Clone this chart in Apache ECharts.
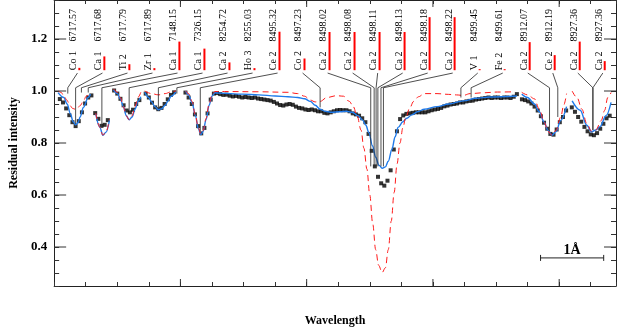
<!DOCTYPE html>
<html>
<head>
<meta charset="utf-8">
<script src="https://cdn.jsdelivr.net/npm/echarts@6/dist/echarts.min.js"></script>
<style>
html,body{margin:0;padding:0;background:#fff;}
#chart{width:618px;height:332px;}
</style>
</head>
<body>
<div id="chart"></div>
<script>
var serif = '"Liberation Serif", "Times New Roman", serif';

// observed spectrum (black squares), sampled every 0.05 A along the stitched axis
var obsStep = 0.05;
var obsStart = [0.09, 0.65, 0.95, 1.45, 2.08, 7.41, 8.2];
var obsSeg1 = [0.969,0.956,0.933,0.907,0.880,0.865,0.884,0.918,0.952,0.975,0.983];
var obsSeg2 = [0.915,0.893,0.866,0.870,0.888];
var obsSeg3 = [1.002,0.990,0.970,0.945,0.925,0.918,0.928,0.950,0.965];
var obsSeg4 = [0.990,0.975,0.955,0.937,0.930,0.935,0.950,0.968,0.985,0.995];
var obsSeg5 = [0.994,0.975,0.950,0.910,0.865,0.837,0.858,0.914,0.967,0.990,
  0.992,0.988,0.985,0.986,0.982,0.979,0.981,0.978,0.975,0.977,
  0.975,0.973,0.975,0.971,0.969,0.967,0.965,0.963,0.958,0.952,
  0.946,0.944,0.948,0.950,0.947,0.940,0.935,0.933,0.929,0.927,
  0.929,0.926,0.922,0.922,0.916,0.914,0.918,0.922,0.926,0.927,
  0.926,0.926,0.922,0.914,0.910,0.905,0.895,0.880,0.835,0.770,
  0.710,0.670,0.645,0.636,0.655,0.695,0.775,0.845,0.892,0.906,
  0.912,0.914,0.916,0.918,0.918,0.918,0.918,0.922,0.926,0.929,
  0.931,0.935,0.941,0.944,0.948,0.950,0.952,0.956,0.956,0.960,
  0.962,0.963,0.967,0.969,0.971,0.973,0.975,0.973,0.975,0.975,
  0.973,0.975,0.975,0.973,0.978,0.988];
var obsSeg6 = [0.968,0.965,0.960,0.952,0.940,0.925,0.903,0.878,0.855,0.835,0.832,0.852,0.880,0.900,0.925];
var obsSeg7 = [0.937,0.920,0.900,0.882,0.862,0.845,0.833,0.830,0.838,0.855,0.874,0.895,0.905];

// fitted synthetic spectrum (blue)
var blueSeg1 = [[0.062,0.994],[0.154,0.975],[0.205,0.95],[0.258,0.912],[0.301,0.882],[0.340,0.87],[0.378,0.878],[0.412,0.9],[0.463,0.937],[0.540,0.975],[0.576,0.988]];
var blueSeg2 = [[0.659,0.912],[0.721,0.862],[0.772,0.83],[0.823,0.842],[0.875,0.887]];
var blueSeg3 = [[0.941,1.004],[1.003,0.99],[1.049,0.97],[1.096,0.94],[1.142,0.905],[1.188,0.889],[1.235,0.9],[1.281,0.93],[1.327,0.96],[1.373,0.978]];
var blueSeg4 = [[1.435,0.995],[1.497,0.975],[1.543,0.958],[1.597,0.94],[1.651,0.928],[1.705,0.932],[1.759,0.945],[1.806,0.962],[1.852,0.98],[1.929,0.998]];
var blueSeg5 = [[2.083,1.0],[2.130,0.985],[2.184,0.955],[2.238,0.905],[2.284,0.855],[2.323,0.832],[2.361,0.845],[2.407,0.89],[2.454,0.945],[2.5,0.98],[2.546,0.993],[2.623,0.992],[2.978,0.988],[3.241,0.985],[3.503,0.981],[3.704,0.978],[3.858,0.975],[3.966,0.97],[4.059,0.96],[4.136,0.945],[4.213,0.93],[4.290,0.922],[4.398,0.918],[4.522,0.92],[4.630,0.922],[4.722,0.918],[4.815,0.905],[4.887,0.888],[4.938,0.868],[4.985,0.84],[5.042,0.79],[5.093,0.745],[5.144,0.715],[5.196,0.703],[5.247,0.708],[5.293,0.73],[5.350,0.775],[5.401,0.824],[5.448,0.86],[5.525,0.882],[5.586,0.895],[5.664,0.908],[5.756,0.92],[5.864,0.93],[6.065,0.94],[6.250,0.95],[6.481,0.962],[6.682,0.972],[6.898,0.977],[7.330,0.981]];
var blueSeg6 = [[7.407,0.988],[7.500,0.975],[7.608,0.95],[7.685,0.92],[7.762,0.88],[7.824,0.848],[7.886,0.83],[7.948,0.843],[8.025,0.887],[8.117,0.94]];
var blueSeg7 = [[8.205,0.962],[8.333,0.926],[8.437,0.868],[8.514,0.843],[8.580,0.85],[8.642,0.862],[8.745,0.906],[8.822,0.956]];

// second model (red dashed)
var redSeg1 = [[0.062,1.0],[0.108,0.995],[0.154,0.982],[0.201,0.965],[0.247,0.945],[0.293,0.933],[0.332,0.93],[0.370,0.935],[0.417,0.945],[0.463,0.962],[0.509,0.98],[0.571,0.997]];
var redSeg2 = [[0.659,0.915],[0.721,0.862],[0.772,0.83],[0.823,0.845],[0.875,0.89]];
var redSeg3 = [[0.941,1.008],[1.003,0.995],[1.049,0.975],[1.096,0.94],[1.142,0.905],[1.188,0.889],[1.235,0.905],[1.281,0.94],[1.327,0.975],[1.373,0.995]];
var redSeg4 = [[1.435,1.0],[1.543,0.99],[1.651,0.985],[1.759,0.99],[1.852,0.997],[1.929,1.0]];
var redSeg5 = [[2.083,1.0],[2.130,0.99],[2.184,0.96],[2.238,0.905],[2.284,0.858],[2.323,0.835],[2.361,0.848],[2.407,0.895],[2.454,0.95],[2.5,0.985],[2.546,0.998],[2.701,0.998],[3.241,0.997],[3.704,0.995],[3.858,0.99],[3.966,0.98],[4.059,0.965],[4.136,0.958],[4.213,0.96],[4.321,0.975],[4.475,0.982],[4.583,0.98],[4.676,0.96],[4.738,0.94],[4.799,0.905],[4.861,0.85],[4.907,0.78],[4.954,0.70],[5.0,0.60],[5.046,0.49],[5.093,0.39],[5.139,0.33],[5.196,0.302],[5.247,0.32],[5.293,0.39],[5.340,0.50],[5.386,0.61],[5.432,0.72],[5.478,0.80],[5.525,0.86],[5.571,0.90],[5.633,0.935],[5.694,0.96],[5.772,0.978],[5.864,0.99],[6.065,0.99],[6.250,0.987],[6.373,0.985],[6.481,0.983],[6.590,0.99],[6.790,0.993],[7.022,0.996],[7.299,0.997]];
var redSeg6 = [[7.407,0.995],[7.500,0.985],[7.608,0.97],[7.685,0.93],[7.762,0.88],[7.824,0.845],[7.886,0.83],[7.948,0.848],[8.025,0.9],[8.071,0.945],[8.117,0.99]];
var redSeg7 = [[8.205,1.0],[8.282,0.975],[8.360,0.93],[8.437,0.875],[8.514,0.845],[8.580,0.85],[8.668,0.887],[8.719,0.925],[8.770,0.975],[8.822,0.994]];

// line identifications
var lineNames = ['Co 1','Ca 1','Ti 2','Zr 1','Ca 1','Ca 1','Ca 2','Ho 3','Ce 2','Co 2','Ca 2','Ca 2','Ca 2','Ca 2','Ca 2','Ca 2','V 1','Fe 2','Ca 2','Ce 2','Ca 2','Ca 2'];
var lineWaves = ['6717.57','6717.68','6717.79','6717.89','7148.15','7326.15','8254.72','8255.03','8495.32','8497.23','8498.02','8498.08','8498.11','8498.13','8498.18','8498.22','8499.45','8499.61','8912.07','8912.19','8927.36','8927.36'];
var linePos = [0.216,0.340,0.432,0.540,0.756,1.188,1.651,1.944,2.315,4.213,5.015,5.069,5.100,5.128,5.177,5.216,6.443,6.605,7.847,7.978,8.534,8.534];
var lineBottom = [0.99,0.873,0.994,0.994,0.873,0.926,0.937,0.99,0.845,0.937,0.71,0.71,0.71,0.71,0.71,0.71,0.975,0.975,0.845,0.9,0.85,0.85];
var lineStrength = [0.009,0.053,0.023,0.008,0.11,0.083,0.03,0.008,0.148,0.045,0.147,0.147,0.147,0.147,0.204,0.204,0.004,0.004,0.108,0.058,0.11,0.035];

var yMajorTicks = [0.4, 0.6, 0.8, 1.0, 1.2];
var xMajorTicks = [2, 4, 6, 8];

var xMin = 0, xMax = 8.9, yMin = 0.25, yMax = 1.35;
var labelStart = 0.309, labelStep = 0.3963;   // label columns
var barBase = 1.08, waveBase = 1.19, leaderTop = 1.069, leaderBend = 1.0125;
var scaleBar = [7.705, 0.358];  // 1 A scale bar

function joinSegs(segs) {
  var out = [];
  segs.forEach(function (s, i) {
    if (i) out.push([(segs[i - 1][segs[i - 1].length - 1][0] + s[0][0]) / 2, null]);
    s.forEach(function (p) { out.push(p); });
  });
  return out;
}

var obsData = [];
[obsSeg1, obsSeg2, obsSeg3, obsSeg4, obsSeg5, obsSeg6, obsSeg7].forEach(function (seg, s) {
  seg.forEach(function (v, i) { obsData.push([+(obsStart[s] + i * obsStep).toFixed(3), v]); });
});

var lineData = linePos.map(function (p, i) { return [p, lineBottom[i], lineStrength[i], i]; });
var tickData = yMajorTicks.map(function (v) { return [xMin, v, 0]; })
  .concat(xMajorTicks.map(function (v) { return [v, yMin, 1]; }));

var chart = echarts.init(document.getElementById('chart'));

var axisCommon = {
  type: 'value',
  axisLine: { show: true, onZero: false, lineStyle: { color: '#222', width: 1 } },
  splitLine: { show: false }
};

var option = {
  animation: false,
  grid: { left: 40, right: 2, top: 0, bottom: 40, containLabel: false },
  xAxis: [
    Object.assign({}, axisCommon, {
      min: xMin, max: xMax, interval: 0.5, position: 'bottom',
      axisTick: { inside: true, length: 4, lineStyle: { color: '#333' } },
      axisLabel: { show: false },
      name: 'Wavelength', nameLocation: 'middle', nameGap: 29,
      nameTextStyle: { fontFamily: serif, fontSize: 12, fontWeight: 'bold', color: '#000' }
    }),
    Object.assign({}, axisCommon, {
      min: xMin, max: xMax, interval: 0.5, position: 'top',
      axisTick: { inside: true, length: 4, lineStyle: { color: '#333' } },
      axisLabel: { show: false }
    })
  ],
  yAxis: [
    Object.assign({}, axisCommon, {
      min: yMin, max: yMax, interval: 0.05, position: 'left',
      axisTick: { inside: true, length: 5, lineStyle: { color: '#333' } },
      axisLabel: {
        margin: 7, fontFamily: serif, fontSize: 13, fontWeight: 'bold', color: '#000',
        formatter: function (v) {
          return (Math.abs(v * 5 - Math.round(v * 5)) < 1e-6 && v > 0.3) ? v.toFixed(1) : '';
        }
      },
      name: 'Residual intensity', nameLocation: 'middle', nameGap: 33,
      nameTextStyle: { fontFamily: serif, fontSize: 12, fontWeight: 'bold', color: '#000' }
    }),
    Object.assign({}, axisCommon, {
      min: yMin, max: yMax, interval: 0.05, position: 'right',
      axisTick: { inside: true, length: 5, lineStyle: { color: '#333' } },
      axisLabel: { show: false }
    })
  ],
  series: [
    {
      type: 'scatter', data: obsData, symbol: 'rect', symbolSize: 4,
      itemStyle: { color: '#000' }, silent: true, z: 2
    },
    {
      type: 'line', data: joinSegs([blueSeg1, blueSeg2, blueSeg3, blueSeg4, blueSeg5, blueSeg6, blueSeg7]),
      showSymbol: false, smooth: 0.35, smoothMonotone: 'x', connectNulls: false,
      lineStyle: { color: '#1f7aea', width: 1.4 }, silent: true, z: 3
    },
    {
      type: 'line', data: joinSegs([redSeg1, redSeg2, redSeg3, redSeg4, redSeg5, redSeg6, redSeg7]),
      showSymbol: false, smooth: 0.35, smoothMonotone: 'x', connectNulls: false,
      lineStyle: { color: '#ff1a1a', width: 1, type: [6, 4] }, silent: true, z: 4
    },
    {
      // line identification labels, strength bars and leader lines
      type: 'custom', data: lineData, clip: false, silent: true, z: 5,
      renderItem: function (params, api) {
        var i = api.value(3);
        var lx = labelStart + i * labelStep;
        var p0 = api.coord([lx + 0.06, leaderTop]);
        var p1 = api.coord([api.value(0), leaderBend]);
        var p2 = api.coord([api.value(0), api.value(1)]);
        var b0 = api.coord([lx + 0.09, barBase]);
        var b1 = api.coord([lx + 0.09, barBase + api.value(2)]);
        var np = api.coord([lx, barBase]);
        var wp = api.coord([lx, waveBase]);
        var font = '10px ' + serif;
        return {
          type: 'group',
          children: [
            { type: 'polyline', shape: { points: [p0, p1, p2] }, style: { stroke: '#222', lineWidth: 0.8, fill: 'none' } },
            { type: 'rect', shape: { x: b0[0] - 1, y: b1[1], width: 2, height: b0[1] - b1[1] }, style: { fill: '#ff0000' } },
            { type: 'text', x: np[0], y: np[1], rotation: Math.PI / 2,
              style: { text: lineNames[i], font: font, fill: '#000', align: 'left', verticalAlign: 'middle' } },
            { type: 'text', x: wp[0], y: wp[1], rotation: Math.PI / 2,
              style: { text: lineWaves[i], font: font, fill: '#000', align: 'left', verticalAlign: 'middle' } }
          ]
        };
      }
    },
    {
      // long ticks at the major values, on all four sides
      type: 'custom', data: tickData, clip: false, silent: true, z: 6,
      renderItem: function (params, api) {
        var v0 = api.value(0), v1 = api.value(1);
        var a, b, style = { stroke: '#333', lineWidth: 1 };
        if (api.value(2) === 0) {
          a = api.coord([xMin, v1]); b = api.coord([xMax, v1]);
          return { type: 'group', children: [
            { type: 'line', shape: { x1: a[0], y1: a[1], x2: a[0] + 12, y2: a[1] }, style: style },
            { type: 'line', shape: { x1: b[0], y1: b[1], x2: b[0] - 12, y2: b[1] }, style: style }
          ] };
        }
        a = api.coord([v0, yMin]); b = api.coord([v0, yMax]);
        return { type: 'group', children: [
          { type: 'line', shape: { x1: a[0], y1: a[1], x2: a[0], y2: a[1] - 7 }, style: style },
          { type: 'line', shape: { x1: b[0], y1: b[1], x2: b[0], y2: b[1] + 7 }, style: style }
        ] };
      }
    },
    {
      // 1 A scale bar
      type: 'custom', data: [scaleBar], clip: false, silent: true, z: 6,
      renderItem: function (params, api) {
        var a = api.coord([api.value(0), api.value(1)]);
        var b = api.coord([api.value(0) + 1, api.value(1)]);
        var st = { stroke: '#222', lineWidth: 1 };
        return { type: 'group', children: [
          { type: 'line', shape: { x1: a[0], y1: a[1], x2: b[0], y2: b[1] }, style: st },
          { type: 'line', shape: { x1: a[0], y1: a[1] - 3, x2: a[0], y2: a[1] + 3 }, style: st },
          { type: 'line', shape: { x1: b[0], y1: b[1] - 3, x2: b[0], y2: b[1] + 3 }, style: st },
          { type: 'text', x: (a[0] + b[0]) / 2, y: a[1] - 1,
            style: { text: '1Å', font: 'bold 14px ' + serif, fill: '#000', align: 'center', verticalAlign: 'bottom' } }
        ] };
      }
    }
  ]
};

chart.setOption(option);
</script>
</body>
</html>
